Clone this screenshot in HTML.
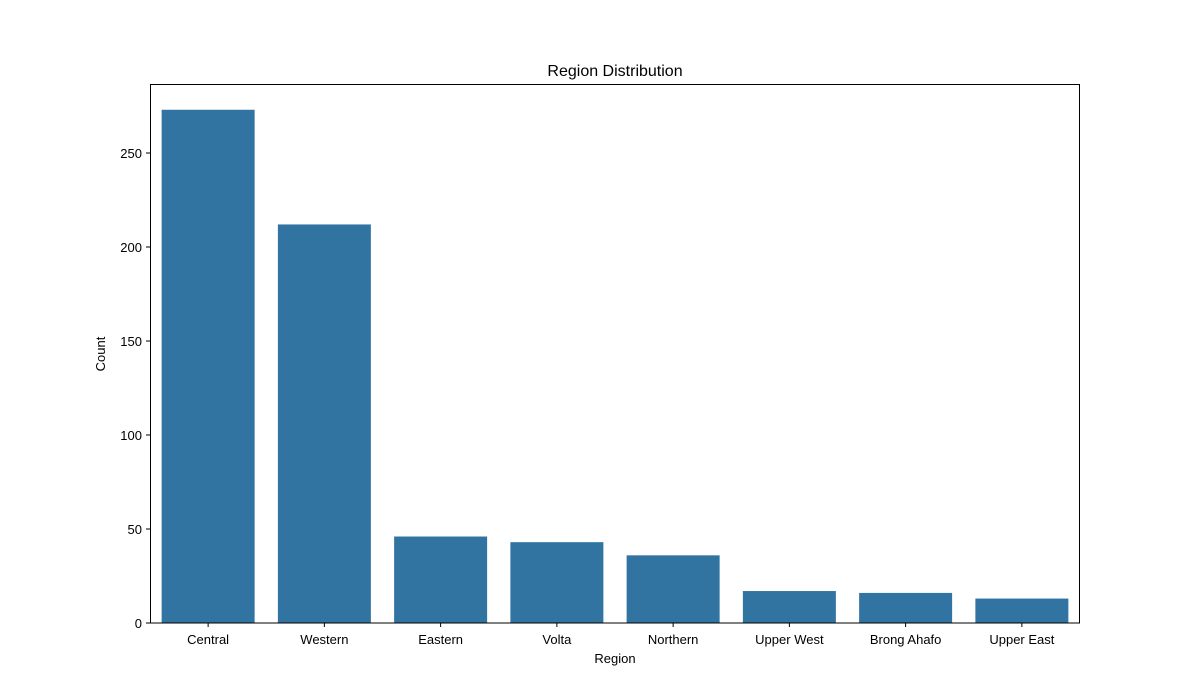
<!DOCTYPE html>
<html><head><meta charset="utf-8"><style>
html,body{margin:0;padding:0;background:#fff;}
svg{display:block;font-family:"Liberation Sans","DejaVu Sans",sans-serif;}
</style></head><body>
<svg id="chart" width="1200" height="700" xmlns="http://www.w3.org/2000/svg">
<text x="615" y="76" text-anchor="middle" font-size="16">Region Distribution</text>
<text x="615" y="663" text-anchor="middle" font-size="13">Region</text>
<text transform="translate(105,354) rotate(-90)" text-anchor="middle" font-size="13">Count</text>
<g id="bars"></g>
<g id="axes"></g>
<rect x="150.5" y="84.5" width="929" height="538.5" fill="none" stroke="#000" stroke-width="1"/>
</svg>
<script>
const categories = ["Central","Western","Eastern","Volta","Northern","Upper West","Brong Ahafo","Upper East"];
const counts = [273,212,46,43,36,17,16,13];
const yTicks = [0,50,100,150,200,250];

const NS = "http://www.w3.org/2000/svg";
const x0 = 150, x1 = 1080, yBase = 623, pxPerUnit = 470/250;
const slot = (x1-x0)/categories.length;
function xCenter(i){ return x0 + slot*(i+0.5); }
function yPos(v){ return yBase - v*pxPerUnit; }

const bars = document.getElementById('bars');
const axes = document.getElementById('axes');
categories.forEach((c,i)=>{
  const w = slot*0.8;
  const r = document.createElementNS(NS,'rect');
  r.setAttribute('x', xCenter(i)-w/2);
  r.setAttribute('y', yPos(counts[i]));
  r.setAttribute('width', w);
  r.setAttribute('height', yBase - yPos(counts[i]));
  r.setAttribute('fill', '#3274a1');
  
  
  bars.appendChild(r);
  const t = document.createElementNS(NS,'line');
  t.setAttribute('x1', xCenter(i)); t.setAttribute('x2', xCenter(i));
  t.setAttribute('y1', yBase); t.setAttribute('y2', yBase+4);
  t.setAttribute('stroke', '#000');
  
  
  axes.appendChild(t);
  const l = document.createElementNS(NS,'text');
  l.setAttribute('x', xCenter(i)); l.setAttribute('y', yBase+21);
  l.setAttribute('text-anchor', 'middle'); l.setAttribute('font-size', '13');
  l.textContent = c;
  
  
  axes.appendChild(l);
});
yTicks.forEach(v=>{
  const t = document.createElementNS(NS,'line');
  t.setAttribute('x1', x0-4); t.setAttribute('x2', x0);
  t.setAttribute('y1', yPos(v)); t.setAttribute('y2', yPos(v));
  t.setAttribute('stroke', '#000');
  
  
  axes.appendChild(t);
  const l = document.createElementNS(NS,'text');
  l.setAttribute('x', x0-8); l.setAttribute('y', yPos(v)+5);
  l.setAttribute('text-anchor', 'end'); l.setAttribute('font-size', '13');
  l.textContent = v;
  
  
  axes.appendChild(l);
});
</script>
</body></html>
